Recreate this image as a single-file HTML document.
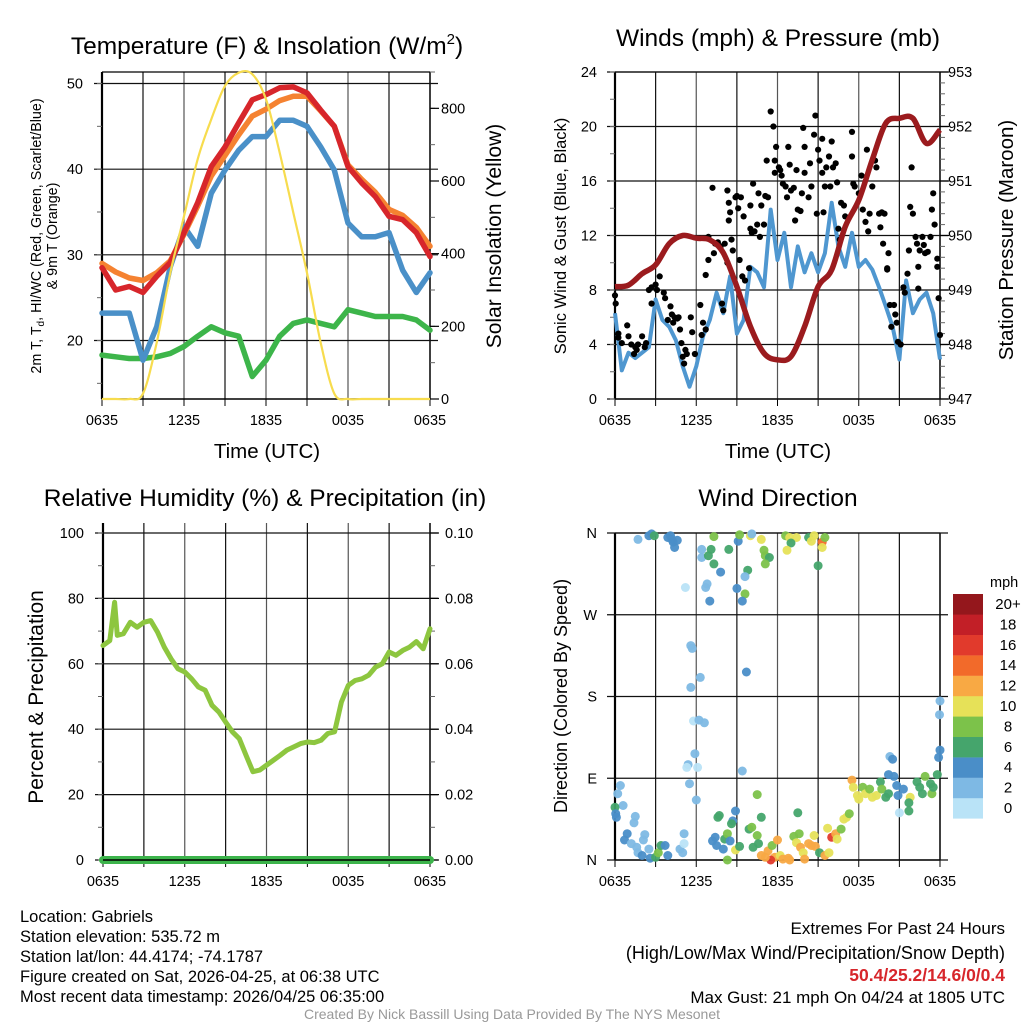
<!DOCTYPE html>
<html><head><meta charset="utf-8"><style>
html,body{margin:0;padding:0;background:#fff;}
svg{display:block;font-family:"Liberation Sans",sans-serif;}
</style></head><body>
<svg id="fig" width="1024" height="1024" viewBox="0 0 1024 1024" xmlns="http://www.w3.org/2000/svg">
<rect x="0" y="0" width="1024" height="1024" fill="#fff"/>
<text x="267" y="54" font-size="24.5" text-anchor="middle">Temperature (F) &amp; Insolation (W/m<tspan font-size="15" dy="-10">2</tspan><tspan dy="10">)</tspan></text>
<text x="778" y="46" font-size="24.5" text-anchor="middle">Winds (mph) &amp; Pressure (mb)</text>
<text x="265" y="506" font-size="24.5" text-anchor="middle">Relative Humidity (%) &amp; Precipitation (in)</text>
<text x="778" y="506" font-size="24.5" text-anchor="middle">Wind Direction</text>
<text transform="translate(41,236) rotate(-90)" font-size="14.3" text-anchor="middle">2m T, T<tspan font-size="10" dy="3">d</tspan><tspan dy="-3">, HI/WC (Red, Green, Scarlet/Blue)</tspan></text>
<text transform="translate(57,236) rotate(-90)" font-size="14.3" text-anchor="middle">&amp; 9m T (Orange)</text>
<text transform="translate(501,236) rotate(-90)" font-size="21" text-anchor="middle">Solar Insolation (Yellow)</text>
<text transform="translate(566,236) rotate(-90)" font-size="16.5" text-anchor="middle">Sonic Wind &amp; Gust (Blue, Black)</text>
<text transform="translate(1013,240) rotate(-90)" font-size="20.5" text-anchor="middle">Station Pressure (Maroon)</text>
<text transform="translate(43,697) rotate(-90)" font-size="21" text-anchor="middle">Percent &amp; Precipitation</text>
<text transform="translate(567,696) rotate(-90)" font-size="18" text-anchor="middle">Direction (Colored By Speed)</text>
<text x="267" y="458" font-size="20.5" text-anchor="middle">Time (UTC)</text>
<text x="778" y="458" font-size="20.5" text-anchor="middle">Time (UTC)</text>
<g font-size="16.5">
<text x="20" y="922">Location: Gabriels</text>
<text x="20" y="942">Station elevation: 535.72 m</text>
<text x="20" y="962">Station lat/lon: 44.4174; -74.1787</text>
<text x="20" y="982">Figure created on Sat, 2026-04-25, at 06:38 UTC</text>
<text x="20" y="1002">Most recent data timestamp: 2026/04/25 06:35:00</text>
</g>
<g font-size="17" text-anchor="end">
<text x="1005" y="934">Extremes For Past 24 Hours</text>
<text x="1005" y="959" font-size="18">(High/Low/Max Wind/Precipitation/Snow Depth)</text>
<text x="1005" y="981" fill="#d7262b" font-weight="bold" font-size="17.5">50.4/25.2/14.6/0/0.4</text>
<text x="1005" y="1003">Max Gust: 21 mph On 04/24 at 1805 UTC</text>
</g>
<text x="512" y="1019" font-size="14" fill="#999" text-anchor="middle">Created By Nick Bassill Using Data Provided By The NYS Mesonet</text>
<g id="plots"></g>
</svg>
<script>
// ---------- data ----------
const hrs = [0,1,2,3,4,5,6,7,8,9,10,11,12,13,14,15,16,17,18,19,20,21,22,23,24];
const timeTickLabels = ["0635","1235","1835","0035","0635"];
const temp2m = [28.5,25.9,26.3,25.6,27.5,29.1,32.6,36.1,40.3,42.6,45.4,48.1,48.7,49.5,49.6,48.9,46.9,45.0,40.3,38.4,36.8,34.5,34.1,32.6,29.8];
const temp9m = [29.0,28.0,27.3,27.0,27.9,29.3,32.4,35.7,39.2,41.6,44.0,46.2,47.0,48.0,48.5,48.5,46.8,45.0,40.5,38.8,37.3,35.3,34.6,33.2,31.0];
const windChill = [23.2,23.2,23.2,17.7,21.6,28.6,33.3,31.0,37.2,39.9,42.2,43.8,43.8,45.7,45.7,45.0,42.6,39.9,33.7,32.1,32.1,32.6,28.2,25.6,27.9];
const dewPoint = [18.3,18.1,17.9,17.9,18.1,18.5,19.3,20.5,21.6,20.9,20.5,15.8,17.7,20.5,22.0,22.4,22.0,21.6,23.6,23.2,22.8,22.8,22.8,22.4,21.2];
const solar = [0,0,0,15,155,347,503,660,770,862,898,894,825,678,513,347,155,15,0,0,0,0,0,0,0];
const tempTicks = [20,30,40,50];
const solarTicks = [0,200,400,600,800];

const windHrs = [0,0.5,1,1.5,2,2.5,3,3.5,4,4.5,5,5.5,6,6.5,7,7.5,8,8.5,9,9.5,10,10.5,11,11.5,12,12.5,13,13.5,14,14.5,15,15.5,16,16.5,17,17.5,18,18.5,19,19.5,20,20.5,21,21.5,22,22.5,23,23.5,24];
const windSpeed = [6.3,2.1,3.4,3.0,3.4,3.8,7.3,5.8,5.3,4.3,2.4,0.9,2.4,4.6,5.8,7.8,6.3,9.0,4.8,5.8,9.7,9.3,8.2,13.9,10.2,12.2,8.2,11.2,9.3,10.7,9.3,10.7,14.4,11.2,9.7,12.2,9.7,10.2,9.5,8.2,6.8,5.3,2.9,8.7,6.3,7.3,7.8,6.3,2.9];
const pressure = [949.06,949.09,949.3,949.46,949.85,950.0,949.95,949.92,949.68,949.06,948.33,947.84,947.72,947.78,948.33,949.06,949.37,950.16,950.65,951.39,952.06,952.15,952.15,951.69,951.94];
const gustHrs = [0,0.05,0.25,0.9,1.0,0.25,0.5,1.2,1.5,1.7,2.0,1.4,1.6,2.2,2.3,2.5,2.7,3.0,3.1,2.7,3.3,3.6,3.7,4.1,4.2,4.4,4.6,4.7,3.9,4.3,4.8,4.9,5.2,5.0,5.3,5.1,5.6,5.7,5.9,6.3,6.5,6.4,6.7,6.7,6.9,6.9,7.3,7.4,7.6,7.8,7.9,8.0,8.1,8.3,7.2,8.3,8.4,8.5,8.4,8.6,8.7,8.9,9.0,9.1,9.3,9.5,9.2,9.4,9.6,9.9,10.0,10.1,10.3,10.5,10.7,10.0,10.2,10.6,10.8,11.0,11.1,11.2,11.3,11.5,11.7,11.9,11.8,11.8,12.1,12.2,12.3,12.4,12.6,12.7,12.8,12.9,13.0,13.2,13.3,13.4,13.5,13.7,13.8,13.9,14.0,14.0,14.3,14.4,14.5,14.7,14.8,14.9,15.0,15.1,15.3,15.3,15.4,15.5,15.6,15.8,15.9,16.0,16.1,16.3,16.4,16.5,16.6,16.7,16.9,17.0,17.5,17.6,17.5,17.7,18.0,18.2,18.3,18.5,18.6,18.7,18.8,19.0,19.3,19.5,19.2,19.6,19.7,19.8,19.9,20.2,20.1,20.1,20.3,20.6,20.4,20.7,20.8,20.9,21.1,21.3,21.4,21.6,21.7,21.9,21.8,22.0,22.2,22.3,22.4,22.5,22.7,22.8,22.9,23.1,23.3,23.4,23.5,23.6,23.8,23.8,23.9,24.0,22.4];
const gustSpeed = [7.6,7.0,4.8,5.4,4.6,4.5,4.1,4.0,3.8,4.0,4.6,3.3,3.6,3.8,4.1,8.0,8.2,8.4,8.0,7.0,9.0,7.8,7.4,6.8,6.2,6.0,5.9,6.0,5.8,5.6,5.1,4.1,3.6,3.1,3.3,2.6,6.0,4.9,3.3,6.9,5.6,4.7,9.1,5.1,10.2,11.9,10.7,11.4,11.5,11.2,7.0,6.5,11.4,10.0,15.5,15.3,14.4,13.7,13.1,11.7,10.9,14.8,14.9,14.0,14.8,13.4,10.2,9.0,8.7,9.6,12.5,12.2,12.3,12.8,11.9,14.2,15.8,15.1,14.2,12.8,14.9,17.5,14.8,21.1,20.0,18.5,17.5,16.6,17.0,16.8,16.4,15.8,15.6,14.8,18.5,17.2,15.3,15.5,13.1,16.8,13.9,13.8,15.1,19.9,18.5,16.6,14.8,17.3,15.6,19.4,20.8,13.6,18.3,17.5,16.6,19.1,13.7,15.6,17.0,17.8,15.6,18.9,17.0,17.3,15.9,12.5,11.7,14.4,14.2,13.4,19.6,15.8,17.8,15.6,15.1,16.4,13.9,13.0,18.3,12.3,13.6,15.6,17.0,13.6,17.5,12.6,13.7,11.4,13.6,10.7,9.6,9.5,6.9,6.9,5.3,6.2,5.6,4.2,4.0,8.2,7.8,9.2,10.9,17.0,14.1,13.6,11.9,11.4,9.7,10.9,11.9,11.3,10.7,10.8,11.9,13.9,15.1,12.8,10.3,9.7,7.4,4.7,8.1];
const windTicks = [0,4,8,12,16,20,24];
const pressureTicks = [947,948,949,950,951,952,953];

const rhHrs = [0,0.5,0.85,1.05,1.5,2,2.5,3,3.5,4,4.5,5,5.5,6,6.5,7,7.5,8,8.5,9,9.5,10,10.5,11,11.5,12,12.5,13,13.5,14,14.5,15,15.5,16,16.5,17,17.5,18,18.5,19,19.5,20,20.5,21,21.5,22,22.5,23,23.5,24];
const rh = [65.6,67.1,78.8,68.7,69.2,72.7,71.2,72.7,73.2,69.7,65.1,61.5,58.5,57.5,55.4,52.9,51.9,47.3,45.3,42.2,39.2,37.1,32.0,27.0,27.5,29.0,30.5,32.0,33.6,34.6,35.6,36.1,35.9,36.6,38.7,39.2,48.3,53.4,54.9,55.4,56.5,59.0,60.0,63.6,62.6,64.1,65.1,66.8,64.6,70.7];
const precip = [0,0,0,0,0,0,0,0,0,0,0,0,0,0,0,0,0,0,0,0,0,0,0,0,0];
const rhTicks = [0,20,40,60,80,100];
const precipTicks = ["0.00","0.02","0.04","0.06","0.08","0.10"];

const dirHrs = [1.7,2.5,2.7,2.9,3.9,4.2,4.3,4.4,4.6,4.1,6.4,6.4,7.1,6.9,7.3,7.3,7.8,8.4,9.1,9.2,10.0,10.1,10.8,11.0,11.1,11.4,11.1,9.8,9.6,12.6,12.9,13.4,13.0,12.7,14.3,14.5,14.7,15.3,15.3,15.5,15.0,5.2,6.7,6.8,7.0,9.0,9.6,9.4,5.6,5.7,6.3,5.6,9.7,5.8,6.2,6.6,5.9,5.4,5.3,6.1,5.5,6.0,9.4,24.0,23.96,24.0,23.9,20.3,20.5,20.2,20.6,17.5,17.6,17.9,18.0,18.3,18.5,18.8,19.0,19.3,19.6,19.7,20.0,20.2,20.8,20.9,21.3,21.0,21.8,21.7,21.7,22.3,22.5,22.7,22.9,23.3,23.4,23.5,23.8,0.4,0.2,0.6,0.0,0.05,0.1,1.5,1.4,0.9,0.7,2.2,2.1,1.2,1.6,1.7,2.0,2.5,2.6,3.0,3.2,3.4,3.7,3.9,4.8,5.0,5.1,5.1,7.6,7.7,7.4,7.2,7.5,8.0,8.1,8.3,8.5,8.7,8.9,8.6,8.3,8.9,9.2,9.9,10.1,10.5,10.2,10.6,10.5,10.8,11.3,11.6,11.8,12.0,11.5,12.2,12.4,12.8,13.2,13.5,13.6,13.4,13.7,13.9,14.0,14.3,14.5,14.8,14.7,15.1,15.5,15.8,16.0,16.3,16.4,15.7,16.7,16.9,17.1,17.3,11.1,12.9,10.8];
const dirDeg = [353,357,359,357,355,353,350,344,352,357,342,333,342,335,356,326,317,342,351,358,357,359,353,341,335,333,326,319,312,357,355,355,349,341,355,351,357,350,344,355,324,300,300,304,285,299,293,285,236,233,201,190,207,153,154,151,117,105,102,102,84,66,98,175,160,121,113,114,111,94,92,88,80,71,67,80,73,78,69,71,86,78,69,73,82,71,78,52,69,63,54,86,80,73,92,84,73,80,94,82,73,60,58,51,47,48,41,29,22,28,22,18,14,8,5,12,2,3,8,16,16,5,12,8,29,18,47,49,25,21,16,12,23,29,21,43,54,40,0,11,15,34,36,27,14,18,72,47,10,16,3,22,0,5,1,2,26,52,29,19,14,8,1,18,16,15,27,8,5,8,25,29,23,35,34,45,47,51,3,0,5];
const dirSpeed = [2,4,4,6,4,4,4,4,4,4,2,2,6,6,8,6,4,6,4,8,10,2,10,8,8,6,8,6,2,8,10,10,6,10,6,10,10,14,10,8,6,0,2,2,4,4,8,4,2,2,2,2,4,0,2,2,2,2,0,0,2,2,2,2,2,4,4,2,4,4,4,12,10,10,10,8,10,8,10,10,6,8,6,6,4,4,4,0,10,6,6,6,6,6,8,6,8,6,6,2,2,2,6,4,4,2,2,4,4,2,2,2,2,2,4,2,4,6,8,6,4,4,2,2,2,0,6,6,4,4,4,4,6,8,4,4,4,6,8,10,6,6,8,8,6,6,8,6,12,8,12,12,16,10,12,12,8,6,8,10,12,10,12,12,12,12,10,6,12,10,16,12,10,10,8,10,10,8,12,12,12];
const dirTickLabels = ["N","E","S","W","N"];
const speedBins = ["0","2","4","6","8","10","12","14","16","18","20+"];
const binColors = ["#b9e3f7","#7eb9e4","#4a8ec8","#45a56c","#7cc24a","#e6e158","#f8a944","#f26a2a","#e13a2c","#c21f27","#94171c"];

// ---------- helpers ----------
const NS = "http://www.w3.org/2000/svg";
const root = document.getElementById("plots");
function el(tag, attrs, parent) {
  const e = document.createElementNS(NS, tag);
  for (const k in attrs) e.setAttribute(k, attrs[k]);
  (parent || root).appendChild(e);
  return e;
}
function linear(d0, d1, r0, r1) { return v => r0 + (v - d0) * (r1 - r0) / (d1 - d0); }
function pathFrom(xs, ys, sx, sy) {
  let d = "";
  for (let i = 0; i < xs.length; i++) d += (i ? "L" : "M") + sx(xs[i]).toFixed(1) + "," + sy(ys[i]).toFixed(1);
  return d;
}
function smoothPath(xs, ys, sx, sy) {
  const P = xs.map((x, i) => [sx(x), sy(ys[i])]);
  let d = "M" + P[0][0].toFixed(1) + "," + P[0][1].toFixed(1);
  for (let i = 0; i < P.length - 1; i++) {
    const p0 = P[Math.max(0, i - 1)], p1 = P[i], p2 = P[i + 1], p3 = P[Math.min(P.length - 1, i + 2)];
    const c1 = [p1[0] + (p2[0] - p0[0]) / 6, p1[1] + (p2[1] - p0[1]) / 6];
    const c2 = [p2[0] - (p3[0] - p1[0]) / 6, p2[1] - (p3[1] - p1[1]) / 6];
    d += "C" + c1[0].toFixed(1) + "," + c1[1].toFixed(1) + " " + c2[0].toFixed(1) + "," + c2[1].toFixed(1) + " " + p2[0].toFixed(1) + "," + p2[1].toFixed(1);
  }
  return d;
}
function frame(name, x0, x1, yTop, yBot, topLine) {
  const g = el("g", {});
  
  
  const sx = linear(0, 24, x0, x1);
  for (let h = 3; h < 24; h += 3) {
    const l = el("line", {x1: sx(h), x2: sx(h), y1: yTop, y2: yBot, stroke: h % 6 ? "#111" : "#555", "stroke-width": 1.2}, g);
    
    
  }
  for (let h = 0; h <= 24; h += 3) {
    el("line", {x1: sx(h), x2: sx(h), y1: yBot, y2: yBot + 7, stroke: "#000", "stroke-width": 1}, g);
  }
  for (let i = 0; i < timeTickLabels.length; i++) {
    const t = el("text", {x: sx(i * 6), y: yBot + 26, "font-size": 14.5, "text-anchor": "middle"}, g);
    
    
    t.textContent = timeTickLabels[i];
  }
  if (topLine) el("line", {x1: x0, x2: x1, y1: yTop, y2: yTop, stroke: "#000", "stroke-width": 1.2}, g);
  el("line", {x1: x0, x2: x1, y1: yBot, y2: yBot, stroke: "#000", "stroke-width": 1.5}, g);
  el("line", {x1: x0, x2: x0, y1: yTop, y2: yBot, stroke: "#000", "stroke-width": 2.2}, g);
  el("line", {x1: x1, x2: x1, y1: yTop, y2: yBot, stroke: "#000", "stroke-width": 1.5}, g);
  return {g, sx};
}
function hGridAndLeftTicks(g, x0, x1, ticks, sy, labels, lx) {
  for (let i = 0; i < ticks.length; i++) {
    const y = sy(ticks[i]);
    el("line", {x1: x0 - 8, x2: x1 + 8, y1: y, y2: y, stroke: "#111", "stroke-width": 1.2}, g);
    const t = el("text", {x: lx, y: y + 5, "font-size": 14.5, "text-anchor": "end"}, g);
    
    
    t.textContent = labels ? labels[i] : ticks[i];
  }
}
function rightTicks(g, x1, ticks, sy, labels, lx, minorStep, lo, hi) {
  for (let v = lo; v <= hi + 1e-9; v += minorStep) {
    el("line", {x1: x1, x2: x1 + 5, y1: sy(v), y2: sy(v), stroke: "#666", "stroke-width": 1}, g);
  }
  for (let i = 0; i < ticks.length; i++) {
    const y = sy(ticks[i]);
    el("line", {x1: x1, x2: x1 + 9, y1: y, y2: y, stroke: "#000", "stroke-width": 1.2}, g);
    const t = el("text", {x: lx, y: y + 5, "font-size": 14.5, "text-anchor": "start"}, g);
    
    
    t.textContent = labels ? labels[i] : ticks[i];
  }
}
function leftMinor(g, x0, sy, step, lo, hi) {
  for (let v = lo; v <= hi + 1e-9; v += step) el("line", {x1: x0 - 5, x2: x0, y1: sy(v), y2: sy(v), stroke: "#666", "stroke-width": 1}, g);
}

// ---------- Panel 1: temperature ----------
{
  const x0 = 102, x1 = 430, yT = 72, yB = 399;
  const f = frame("temperature", x0, x1, yT, yB, true);
  const sy = linear(20, 50, 340.5, 83.5);
  const sSolar = linear(0, 900, yB, yT);
  hGridAndLeftTicks(f.g, x0, x1, tempTicks, sy, null, 83);
  leftMinor(f.g, x0, sy, 5, 15, 50);
  rightTicks(f.g, x1, solarTicks, sSolar, null, 441, 100, 0, 900);
  const series = [[dewPoint, "#3db54a", "dewpoint-line"], [windChill, "#4a90c8", "wind-chill-line"], [temp9m, "#f58231", "temp-9m-line"], [temp2m, "#d7262b", "temp-2m-line"]];
  for (const s of series) {
    const p = el("path", {d: pathFrom(hrs, s[0], f.sx, sy), fill: "none", stroke: s[1], "stroke-width": 5.5, "stroke-linejoin": "round", "stroke-linecap": "round"});
    
    
  }
  const sp = el("path", {d: smoothPath(hrs, solar, f.sx, sSolar), fill: "none", stroke: "#f7dc4e", "stroke-width": 2.2, "stroke-linejoin": "round"});
  
  
}

// ---------- Panel 2: winds ----------
{
  const x0 = 615, x1 = 940, yT = 72, yB = 399;
  const f = frame("winds", x0, x1, yT, yB, true);
  const sy = linear(0, 24, yB, yT);
  const sp = linear(947, 953, yB, yT);
  hGridAndLeftTicks(f.g, x0, x1, windTicks, sy, null, 597);
  leftMinor(f.g, x0, sy, 2, 0, 24);
  rightTicks(f.g, x1, pressureTicks, sp, null, 948, 0.2, 947, 953);
  const w = el("path", {d: pathFrom(windHrs, windSpeed, f.sx, sy), fill: "none", stroke: "#4f97d0", "stroke-width": 4, "stroke-linejoin": "round"});
  
  
  for (let i = 0; i < gustHrs.length; i++) {
    const c = el("circle", {cx: f.sx(gustHrs[i]).toFixed(1), cy: sy(gustSpeed[i]).toFixed(1), r: 3.1, fill: "#000"});
    
    
  }
  const p = el("path", {d: smoothPath(hrs, pressure, f.sx, sp), fill: "none", stroke: "#9b1b1e", "stroke-width": 5.5, "stroke-linejoin": "round"});
  
  
}

// ---------- Panel 3: humidity ----------
{
  const x0 = 103, x1 = 430, yT = 523, yB = 860;
  const f = frame("humidity", x0, x1, yT, yB, false);
  const sy = linear(0, 100, 860, 533);
  const spp = linear(0, 0.10, 860, 533);
  hGridAndLeftTicks(f.g, x0, x1, rhTicks, sy, null, 84);
  leftMinor(f.g, x0, sy, 10, 0, 100);
  rightTicks(f.g, x1, [0,0.02,0.04,0.06,0.08,0.10], spp, precipTicks, 445, 0.01, 0, 0.10);
  const r = el("path", {d: pathFrom(rhHrs, rh, f.sx, sy), fill: "none", stroke: "#8dc63f", "stroke-width": 5, "stroke-linejoin": "round", "stroke-linecap": "round"});
  
  
  const pr = el("path", {d: pathFrom(hrs, precip, f.sx, spp), fill: "none", stroke: "#3cb44b", "stroke-width": 8, "stroke-linecap": "round"});
  
  
  el("line", {x1: x0, x2: x1, y1: yB, y2: yB, stroke: "#000", "stroke-width": 1.5});
}

// ---------- Panel 4: wind direction ----------
{
  const x0 = 615, x1 = 940, yT = 533, yB = 860;
  const f = frame("wind-direction", x0, x1, yT, yB, true);
  const sy = linear(0, 360, yB, yT);
  hGridAndLeftTicks(f.g, x0, x1, [0,90,180,270,360], sy, dirTickLabels, 597);
  for (let i = 0; i < dirHrs.length; i++) {
    const b = Math.min(10, Math.floor(dirSpeed[i] / 2));
    const c = el("circle", {cx: f.sx(dirHrs[i]).toFixed(1), cy: sy(dirDeg[i]).toFixed(1), r: 4.5, fill: binColors[b], "fill-opacity": 0.95});
    
    
  }
  const leg = el("g", {});
  
  
  const t = el("text", {x: 990, y: 587, "font-size": 14.5, "text-anchor": "start"}, leg);
  t.textContent = "mph";
  for (let i = 0; i < speedBins.length; i++) {
    const y = 594 + (10 - i) * 20.4;
    const r = el("rect", {x: 953, y: y, width: 30, height: 20.6, fill: binColors[i]}, leg);
    
    
    const lt = el("text", {x: 1008, y: y + 15, "font-size": 15, "text-anchor": "middle"}, leg);
    
    
    lt.textContent = speedBins[i];
  }
}
</script>
</body></html>
